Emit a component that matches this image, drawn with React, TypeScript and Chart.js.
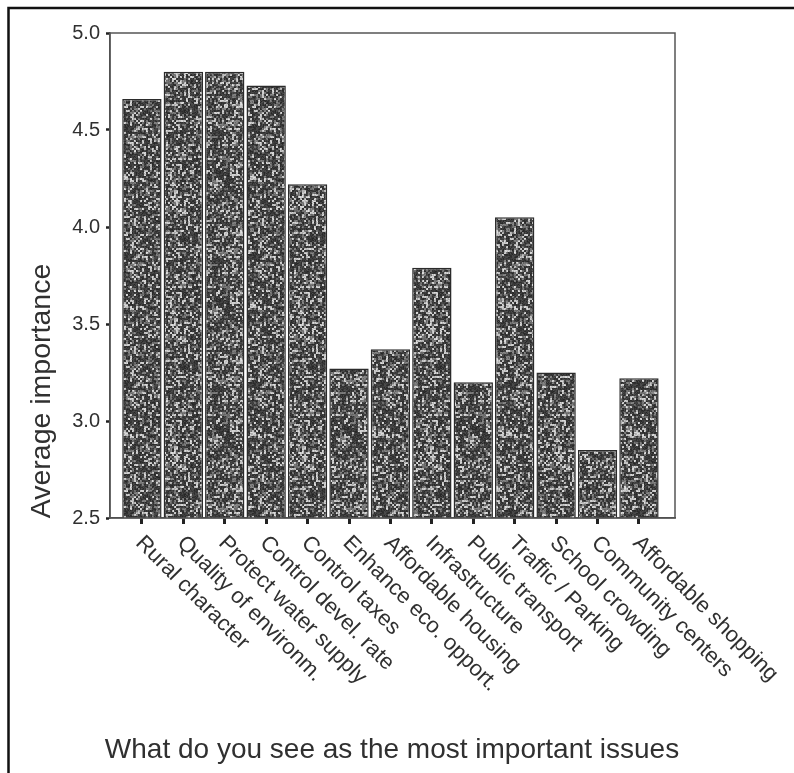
import React, { useEffect, useRef } from 'react';
import { Chart, registerables } from 'chart.js';

Chart.register(...registerables);

const categories = [
  'Rural character',
  'Quality of environm.',
  'Protect water supply',
  'Control devel. rate',
  'Control taxes',
  'Enhance eco. opport.',
  'Affordable housing',
  'Infrastructure',
  'Public transport',
  'Traffic / Parking',
  'School crowding',
  'Community centers',
  'Affordable shopping',
];
const averageImportance = [4.66, 4.8, 4.8, 4.73, 4.22, 3.27, 3.37, 3.79, 3.2, 4.05, 3.25, 2.85, 3.22];
const yTicks = [2.5, 3.0, 3.5, 4.0, 4.5, 5.0];
const yAxisTitle = 'Average importance';
const xAxisTitle = 'What do you see as the most important issues';

const FONT = '"Liberation Sans", Arial, Helvetica, sans-serif';
const TEXT = '#303030';

function hash(x: number, y: number): number {
  let h = Math.imul(x + 1013, 0x27d4eb2d) ^ Math.imul(y + 7919, 0x165667b1);
  h = Math.imul(h ^ (h >>> 15), 0x85ebca6b);
  h ^= h >>> 13;
  h = Math.imul(h, 0xc2b2ae35);
  h ^= h >>> 16;
  return (h >>> 0) / 4294967296;
}

function makeStipple(): CanvasPattern | string {
  const size = 128;
  const c = document.createElement('canvas');
  c.width = size;
  c.height = size;
  const ctx = c.getContext('2d');
  if (!ctx) return '#4a4a4a';
  const img = ctx.createImageData(size, size);
  for (let y = 0; y < size; y++) {
    for (let x = 0; x < size; x++) {
      const cell = hash(x >> 1, y >> 1);
      const fine = hash(x, y);
      let v: number;
      if (cell < 0.2) v = 165 + fine * 60;
      else if (cell < 0.42) v = 95 + fine * 45;
      else v = 38 + fine * 40;
      const i = (y * size + x) * 4;
      img.data[i] = v;
      img.data[i + 1] = v;
      img.data[i + 2] = v;
      img.data[i + 3] = 255;
    }
  }
  ctx.putImageData(img, 0, 0);
  const p = ctx.createPattern(c, 'repeat');
  return p || '#4a4a4a';
}

const decorPlugin = {
  id: 'decor',
  beforeDraw(chart: any) {
    const ctx = chart.ctx as CanvasRenderingContext2D;
    ctx.save();
    ctx.fillStyle = '#ffffff';
    ctx.fillRect(0, 0, chart.width, chart.height);
    ctx.strokeStyle = '#111';
    ctx.lineWidth = 2.5;
    ctx.beginPath();
    ctx.moveTo(8.5, chart.height);
    ctx.lineTo(8.5, 8);
    ctx.lineTo(chart.width, 8);
    ctx.stroke();
    ctx.restore();
  },
  afterDraw(chart: any) {
    const ctx = chart.ctx as CanvasRenderingContext2D;
    const { left, top, right, bottom } = chart.chartArea;
    const xs = chart.scales.x;
    ctx.save();
    ctx.strokeStyle = '#555';
    ctx.lineWidth = 1.5;
    ctx.strokeRect(left, top, right - left, bottom - top);

    ctx.fillStyle = TEXT;
    ctx.font = `22px ${FONT}`;
    ctx.textAlign = 'left';
    ctx.textBaseline = 'top';
    categories.forEach((lab, i) => {
      const px = xs.getPixelForValue(i);
      ctx.save();
      ctx.translate(px + 5, bottom + 14);
      ctx.rotate(Math.PI / 4);
      ctx.fillText(lab, 0, 0);
      ctx.restore();
    });

    ctx.font = `28px ${FONT}`;
    ctx.textAlign = 'center';
    ctx.textBaseline = 'alphabetic';
    ctx.fillText(xAxisTitle, 392, 758);

    ctx.save();
    ctx.translate(50, 391);
    ctx.rotate(-Math.PI / 2);
    ctx.font = `28.5px ${FONT}`;
    ctx.textAlign = 'center';
    ctx.fillText(yAxisTitle, 0, 0);
    ctx.restore();
    ctx.restore();
  },
};

export default function App() {
  const ref = useRef<HTMLCanvasElement | null>(null);

  useEffect(() => {
    document.body.style.margin = '0';
    const canvas = ref.current;
    if (!canvas) return;
    const stipple = makeStipple();
    const chart = new Chart(canvas, {
      type: 'bar',
      data: {
        datasets: [
          {
            label: yAxisTitle,
            data: averageImportance.map((v, i) => ({ x: i, y: v })),
            backgroundColor: stipple as any,
            borderColor: '#2b2b2b',
            borderWidth: 1.5,
            borderSkipped: 'bottom',
            barPercentage: 0.95,
            categoryPercentage: 1,
          },
        ],
      },
      options: {
        responsive: false,
        animation: false,
        devicePixelRatio: 1,
        layout: { padding: { left: 0, right: 119, top: 33, bottom: 0 } },
        plugins: {
          legend: { display: false },
          tooltip: { enabled: false },
          title: { display: false },
        },
        scales: {
          x: {
            type: 'linear',
            min: -0.77,
            max: 12.87,
            offset: false,
            afterBuildTicks: (scale: any) => {
              scale.ticks = categories.map((_, i) => ({ value: i }));
            },
            afterFit: (scale: any) => {
              scale.height = 255;
            },
            ticks: { display: false },
            grid: {
              display: true,
              offset: false,
              drawOnChartArea: false,
              drawTicks: true,
              tickLength: 6,
              tickWidth: 3,
              tickColor: '#222',
            },
            border: { display: true, color: '#444', width: 1.5 },
          },
          y: {
            type: 'linear',
            min: 2.5,
            max: 5,
            afterBuildTicks: (scale: any) => {
              scale.ticks = yTicks.map((v) => ({ value: v }));
            },
            afterFit: (scale: any) => {
              scale.width = 110;
            },
            ticks: {
              padding: 6,
              color: TEXT,
              font: { family: FONT, size: 20 },
              callback: (v: any) => Number(v).toFixed(1),
            },
            grid: {
              display: true,
              drawOnChartArea: false,
              drawTicks: true,
              tickLength: 4,
              tickWidth: 2.5,
              tickColor: '#222',
            },
            border: { display: true, color: '#444', width: 1.5 },
          },
        },
      },
      plugins: [decorPlugin],
    });
    return () => chart.destroy();
  }, []);

  return (
    <canvas
      ref={ref}
      width={794}
      height={773}
      style={{ display: 'block', width: 794, height: 773 }}
    />
  );
}
